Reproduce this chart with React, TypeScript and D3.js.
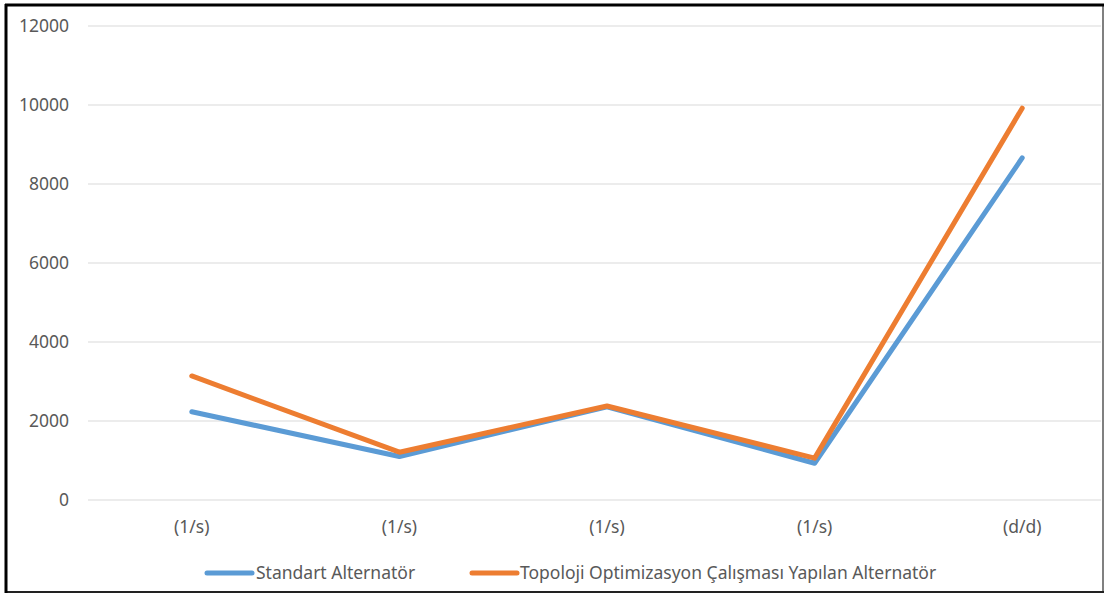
import React from "react";
import * as d3 from "d3";

const categories = ["(1/s)", "(1/s)", "(1/s)", "(1/s)", "(d/d)"];
const standart = [2235, 1100, 2360, 930, 8660];
const topoloji = [3140, 1210, 2380, 1060, 9920];
const yTicks = [0, 2000, 4000, 6000, 8000, 10000, 12000];
const seriesNames = ["Standart Alternatör", "Topoloji Optimizasyon Çalışması Yapılan Alternatör"];
const seriesColors = ["#5B9BD5", "#ED7D31"];

export default function App() {
  const W = 1105, H = 594;
  const x = d3.scalePoint<number>().domain(d3.range(categories.length)).range([88, 1126]).padding(0.5);
  const y = d3.scaleLinear().domain([0, 12000]).range([500, 26]);
  const line = d3.line<number>().x((_, i) => x(i)!).y(d => y(d));
  const font = "'Noto Sans', 'Open Sans', sans-serif";
  const fs = 17.5;
  const series = [standart, topoloji];
  const legendItems = [
    { lx: 207, tx: 256 },
    { lx: 472, tx: 520 },
  ];
  return (
    <svg width={W} height={H} style={{ position: "absolute", left: 0, top: 0, background: "#fff" }} fontFamily={font}>
      <rect x={0} y={0} width={W} height={H} fill="#fff" />
      {yTicks.map(t => (
        <g key={t}>
          <line x1={88} x2={1101} y1={y(t)} y2={y(t)} stroke="#D9D9D9" strokeWidth={1.2} />
          <text x={69} y={y(t)} dy="0.35em" textAnchor="end" fontSize={fs} fill="#595959">{t}</text>
        </g>
      ))}
      {categories.map((c, i) => (
        <text key={i} x={x(i)!} y={527} dy="0.35em" textAnchor="middle" fontSize={fs} fill="#595959">{c}</text>
      ))}
      {series.map((s, k) => (
        <path key={k} d={line(s)!} fill="none" stroke={seriesColors[k]} strokeWidth={5} strokeLinecap="round" strokeLinejoin="round" />
      ))}
      {legendItems.map((li, k) => (
        <g key={k}>
          <line x1={li.lx} x2={li.lx + 45} y1={573} y2={573} stroke={seriesColors[k]} strokeWidth={5} strokeLinecap="round" />
          <text x={li.tx} y={573} dy="0.35em" fontSize={fs} fill="#595959">{seriesNames[k]}</text>
        </g>
      ))}
      <line x1={1103} x2={1103} y1={5} y2={592} stroke="#808080" strokeWidth={2} />
      <line x1={6} x2={1104} y1={592} y2={592} stroke="#222" strokeWidth={2} />
      <line x1={6} x2={6} y1={4} y2={593} stroke="#000" strokeWidth={3} />
      <line x1={5} x2={1104} y1={5} y2={5} stroke="#000" strokeWidth={3} />
    </svg>
  );
}
